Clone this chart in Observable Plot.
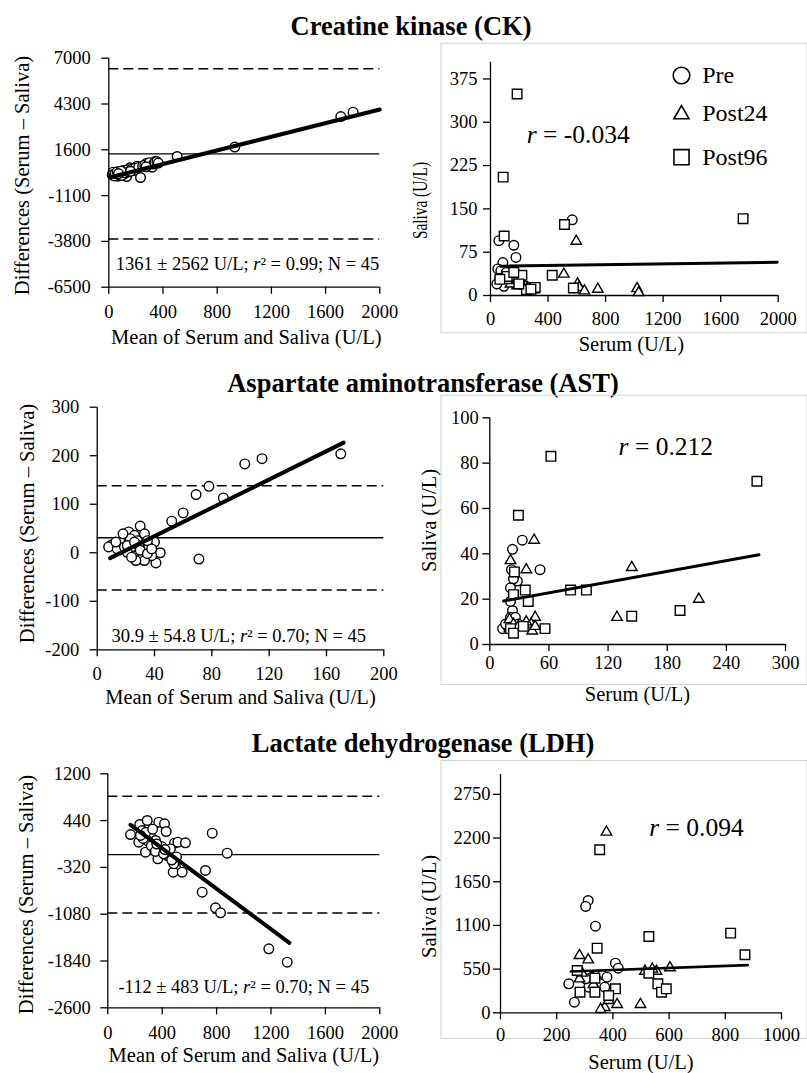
<!DOCTYPE html>
<html>
<head>
<meta charset="utf-8">
<script src="https://cdn.jsdelivr.net/npm/d3@7"></script>
<script src="https://cdn.jsdelivr.net/npm/@observablehq/plot@0.6"></script>
<style>
  body { margin: 0; background: #fff; }
  #fig { position: relative; width: 807px; height: 1073px; background: #fff; overflow: hidden;
         font-family: "Liberation Serif", serif; color: #000; }
  .title { position: absolute; transform: translateX(-50%); white-space: nowrap;
           font-family: "Liberation Serif", serif; font-weight: bold; font-size: 26.5px; line-height: 26.5px; }
  #fig svg { position: absolute; overflow: visible; }
  #fig svg text, #fig svg tspan { font-family: "Liberation Serif", serif !important; }
</style>
</head>
<body>
<div id="fig"></div>
<script>
// ---------- data ----------
const groups = ["Pre", "Post24", "Post96"];

// Creatine kinase (CK)
const ckTicksMean = [0, 400, 800, 1200, 1600, 2000];
const ckTicksDiff = [-6500, -3800, -1100, 1600, 4300, 7000];
const ckTicksSaliva = [0, 75, 150, 225, 300, 375];
const ckBiasSd = [1361, 2562];
const ckR2N = [0.99, 45];
const ckBland = [[32,282],[57,144],[81,221],[67,44],[106,380],[131,26],[156,539],[115,185],[209,634],[234,-33],
  [280,810],[309,616],[321,575],[345,928],[505,1205],[930,1760],[1712,3560],[1803,3820],
  [25,120],[40,60],[48,210],[62,300],[75,150],[88,260],[95,90],[110,310],[120,240],[138,420],[145,300],
  [170,460],[185,380],[195,520],[220,560],[250,640],[265,700],[290,720],[300,840],[330,760],[340,860],
  [355,900],[365,820],[90,340],[72,200],[160,330],[275,600]];
const ckBlandFit = [[12, -15], [2000, 3976]];
const ckPre = [[58,95],[86,57],[162,87],[177,66],[568,131],[51,46],[93,16],[44,20],[132,35],[155,27],
  [72,43],[190,24],[245,16],[65,30],[110,40]];
const ckPost24 = [[596,94],[510,37],[605,20],[616,14],[746,11],[1019,12],[1030,5],[185,17],[243,16],
  [255,12],[208,23],[139,20],[300,10],[653,8],[116,26]];
const ckPost96 = [[185,349],[88,205],[95,103],[514,123],[1756,133],[429,35],[116,33],[218,35],[311,14],
  [576,13],[250,10],[65,28],[197,20],[281,11],[162,40]];
const ckCorr = -0.034;
const ckFit = [[70, 50.7], [1993, 57.6]];

// Aspartate aminotransferase (AST)
const astTicksMean = [0, 40, 80, 120, 160, 200];
const astTicksDiff = [-200, -100, 0, 100, 200, 300];
const astTicksSerum = [0, 60, 120, 180, 240, 300];
const astTicksSaliva = [0, 20, 40, 60, 80, 100];
const astBiasSd = [30.9, 54.8];
const astR2N = [0.70, 45];
const astBland = [[170,204],[115,194],[103,183],[78,137],[69,120],[88,113],[60,82],[52,65],[71,-13],
  [30,55],[44,0],[41,-21],[40,22],[34,7],[30,-13],[27,-2],[20,34],[10,16],[8,12],[22,43],[26,36],
  [28,25],[24,12],[21,1],[28,-6],[31,-13],[36,12],[16,22],[14,8],[33,39],[35,25],[38,-6],[29,15],
  [23,29],[19,12],[33,-16],[27,-16],[13,22],[18,39],[24,-9],[30,5],[35,-2],[38,8],[21,15],[26,22]];
const astBlandFit = [[9, -11], [172, 227]];
const astPre = [[23,42],[33,46],[22,33],[51,33],[28,28],[21,25],[23,15],[21,12],[13,7],[18,8],
  [26,12],[29,9],[21,19],[24,29],[16,9]];
const astPost24 = [[45,46],[21,37],[37,33],[144,34],[212,20],[129,12],[46,12],[42,9],[43,6],[20,11],
  [24,9],[29,8],[37,10],[46,8],[20,7]];
const astPost96 = [[62,83],[271,72],[29,57],[25,32],[36,24],[39,19],[24,22],[82,24],[98,24],[193,15],
  [144,12.5],[21,7],[24,5],[34,8],[56,7]];
const astCorr = 0.212;
const astFit = [[14, 19.2], [273, 39.6]];

// Lactate dehydrogenase (LDH)
const ldhTicksMean = [0, 400, 800, 1200, 1600, 2000];
const ldhTicksDiff = [-2600, -1840, -1080, -320, 440, 1200];
const ldhTicksSerum = [0, 200, 400, 600, 800, 1000];
const ldhTicksSaliva = [0, 550, 1100, 1650, 2200, 2750];
const ldhBiasSd = [-112, 483];
const ldhR2N = [0.70, 45];
const ldhBland = [[167,214],[235,377],[290,442],[375,414],[417,388],[429,263],[253,279],[314,198],
  [228,89],[277,-73],[338,8],[368,-180],[387,-46],[449,-73],[490,73],[498,-317],[481,-398],[547,-398],
  [515,89],[571,79],[485,-262],[768,235],[878,-89],[718,-370],[694,-723],[792,-976],[829,-1057],
  [1184,-1642],[1319,-1859],[351,117],[437,-127],[300,100],[260,150],[320,30],[395,20],[350,-60],
  [410,-100],[460,-20],[505,-150],[280,250],[240,200],[330,300],[470,-200],[360,60],[420,-30]];
const ldhBlandFit = [[167, 372], [1335, -1544]];
const ldhPre = [[312,1414],[303,1339],[338,1091],[409,625],[419,562],[243,365],[263,134],[362,470],
  [344,407],[356,365],[371,323],[326,449],[314,323],[379,449],[303,428]];
const ldhPost24 = [[377,2275],[281,722],[312,667],[281,428],[514,524],[555,524],[603,567],[498,105],
  [415,105],[371,67],[356,42],[331,356],[290,500],[385,155],[540,550]];
const ldhPost96 = [[353,2053],[819,1003],[870,731],[528,961],[344,814],[273,533],[336,436],[409,302],
  [283,260],[336,260],[385,218],[528,499],[560,365],[573,260],[590,302]];
const ldhCorr = 0.094;
const ldhFit = [[250, 520], [880, 600]];

// ---------- drawing helpers ----------
const FONT = "Liberation Serif";
const fig = document.getElementById("fig");
const px = d => d[0], py = d => d[1];

function addTitle(text, cx, baseline) {
  const div = document.createElement("div");
  div.className = "title";
  div.textContent = text;
  div.style.left = cx + "px";
  div.style.top = (baseline - 21.6) + "px";
  fig.appendChild(div);
}

// a text placed at page coordinates, relative to the plot frame's top-left corner
function note(area, text, x, y, opts = {}) {
  return Plot.text([text], {text: d => d, frameAnchor: "top-left", dx: x - area[0], dy: y - area[2],
    fill: "#000", fontFamily: FONT, lineAnchor: "middle", textAnchor: "middle", ...opts});
}

function symbolKey(area, symbol, r, label, x, ySym, yText) {
  return [
    Plot.dot([0], {frameAnchor: "top-left", dx: x - area[0], dy: ySym - area[2], symbol, r,
      stroke: "#000", fill: "#fff", strokeWidth: 1.6}),
    note(area, label, x + 20.7, yText, {textAnchor: "start", fontSize: 24})
  ];
}

function panel({box, area, xDomain, yDomain, xTicks, yTicks, xPad, yPad, tickFont = 18.5, frame, marks, squeeze}) {
  const [L, T, W, H] = box;
  const [x0, x1, y0, y1] = area;
  const extra = [];
  if (frame) {
    extra.push(Plot.frame({stroke: "#d4d4d4", strokeWidth: 1,
      insetLeft: frame[0] - x0, insetRight: x1 - frame[1], insetTop: frame[2] - y0, insetBottom: y1 - frame[3]}));
  }
  const svg = Plot.plot({
    width: W, height: H,
    marginLeft: x0 - L, marginRight: L + W - x1, marginTop: y0 - T, marginBottom: T + H - y1,
    x: {domain: xDomain}, y: {domain: yDomain},
    style: {fontFamily: FONT, background: "transparent", color: "#000", overflow: "visible"},
    marks: [
      ...extra,
      ...marks,
      Plot.ruleX([xDomain[0]], {stroke: "#000", strokeWidth: 1.3}),
      Plot.ruleY([yDomain[0]], {stroke: "#000", strokeWidth: 1.3}),
      Plot.axisX({ticks: xTicks, tickFormat: d => String(d), tickSize: 7, tickPadding: xPad,
        fontSize: tickFont, fontFamily: FONT, label: null, stroke: "#000", strokeWidth: 1.3, fill: "#000"}),
      Plot.axisY({ticks: yTicks, tickFormat: d => String(d), tickSize: 7, tickPadding: yPad,
        fontSize: tickFont, fontFamily: FONT, label: null, stroke: "#000", strokeWidth: 1.3, fill: "#000"})
    ]
  });
  svg.style.left = L + "px";
  svg.style.top = T + "px";
  fig.appendChild(svg);
  // italic correlation symbol inside the statistic labels
  d3.select(svg).selectAll("text").each(function () {
    const s = this.textContent;
    const m = /(^|; )r(?=[² ])/.exec(s);
    if (!m) return;
    const i = m.index + m[1].length;
    const t = d3.select(this);
    t.text(null);
    t.append("tspan").text(s.slice(0, i));
    t.append("tspan").attr("font-style", "italic").text("r");
    t.append("tspan").text(s.slice(i + 1));
  });
  if (squeeze) {
    d3.select(svg).selectAll("text").filter(function () { return this.textContent === squeeze[0]; })
      .attr("textLength", squeeze[1]).attr("lengthAdjust", "spacingAndGlyphs");
  }
}

function blandAltman({box, area, xDomain, yDomain, xTicks, yTicks, xPad, yPad, points, fit, biasSd, r2n,
                      yTitle, xTitle, stats}) {
  const [bias, sd] = biasSd;
  const statText = `${bias} ± ${sd} U/L; r² = ${r2n[0].toFixed(2)}; N = ${r2n[1]}`;
  panel({box, area, xDomain, yDomain, xTicks, yTicks, xPad, yPad, marks: [
    Plot.ruleY([bias], {stroke: "#000", strokeWidth: 1.3}),
    Plot.ruleY([bias + 1.96 * sd, bias - 1.96 * sd], {stroke: "#000", strokeWidth: 1.5, strokeDasharray: "10,5"}),
    Plot.dot(points, {x: px, y: py, r: 4.8, stroke: "#000", fill: "#fff", strokeWidth: 1.4}),
    Plot.line(fit, {x: px, y: py, stroke: "#000", strokeWidth: 4}),
    note(area, statText, stats[0], stats[1], {fontSize: 18.5}),
    note(area, "Differences (Serum – Saliva)", yTitle[0], yTitle[1], {fontSize: 20.5, rotate: -90}),
    note(area, "Mean of Serum and Saliva (U/L)", xTitle[0], xTitle[1], {fontSize: 20.5})
  ]});
}

function scatter({box, area, frame, xDomain, yDomain, xTicks, yTicks, xPad, yPad, sets, fit, fitWidth, corr,
                  rPos, yTitle, xTitle, squeeze, legend}) {
  const shapes = [["circle", 4.8], ["triangle", 3.9], ["square", 5.4]];
  const marks = sets.map((d, i) => Plot.dot(d, {x: px, y: py, symbol: shapes[i][0], r: shapes[i][1],
    stroke: "#000", fill: "#fff", strokeWidth: 1.4}));
  marks.push(Plot.line(fit, {x: px, y: py, stroke: "#000", strokeWidth: fitWidth}));
  marks.push(note(area, `r = ${corr.toFixed(3)}`, rPos[0], rPos[1], {fontSize: 25.5}));
  marks.push(note(area, "Saliva (U/L)", yTitle[0], yTitle[1], {fontSize: 20.5, rotate: -90}));
  marks.push(note(area, "Serum (U/L)", xTitle[0], xTitle[1], {fontSize: 20.5}));
  if (legend) {
    const keyShapes = [["circle", 8.3, 75, 75], ["triangle", 5.6, 113.9, 113.3], ["square", 8.5, 156.7, 157]];
    groups.forEach((g, i) => marks.push(...symbolKey(area, keyShapes[i][0], keyShapes[i][1], g, 681,
      keyShapes[i][2], keyShapes[i][3])));
  }
  panel({box, area, frame, xDomain, yDomain, xTicks, yTicks, xPad, yPad, marks, squeeze});
}

// ---------- figure ----------
addTitle("Creatine kinase (CK)", 411, 35);
addTitle("Aspartate aminotransferase (AST)", 423, 392);
addTitle("Lactate dehydrogenase (LDH)", 423, 751.5);

blandAltman({
  box: [0, 40, 420, 320], area: [108.3, 379.3, 57.7, 286.7],
  xDomain: [0, 2000], yDomain: [-6500, 7000], xTicks: ckTicksMean, yTicks: ckTicksDiff, xPad: 11, yPad: 11,
  points: ckBland, fit: ckBlandFit, biasSd: ckBiasSd, r2n: ckR2N,
  yTitle: [21.5, 175], xTitle: [245.8, 336.5], stats: [247, 264]
});
scatter({
  box: [420, 40, 387, 320], area: [490, 777.7, 61.7, 295], frame: [440.5, 806.5, 42.7, 332.3],
  xDomain: [0, 2000], yDomain: [0, 404], xTicks: ckTicksMean, yTicks: ckTicksSaliva, xPad: 9.5, yPad: 6,
  sets: [ckPre, ckPost24, ckPost96], fit: ckFit, fitWidth: 3, corr: ckCorr,
  rPos: [577.7, 134], yTitle: [420.2, 200], xTitle: [630.8, 343.5], squeeze: ["Saliva (U/L)", 77], legend: true
});

blandAltman({
  box: [0, 397, 420, 318], area: [96.7, 383.3, 406.7, 649.3],
  xDomain: [0, 200], yDomain: [-200, 300], xTicks: astTicksMean, yTicks: astTicksDiff, xPad: 10, yPad: 11,
  points: astBland, fit: astBlandFit, biasSd: astBiasSd, r2n: astR2N,
  yTitle: [27.3, 523], xTitle: [240, 697], stats: [238.3, 636]
});
scatter({
  box: [420, 392, 387, 323], area: [489.3, 785, 417.3, 644], frame: [440.5, 806.5, 394.7, 684],
  xDomain: [0, 300], yDomain: [0, 100], xTicks: astTicksSerum, yTicks: astTicksSaliva, xPad: 4, yPad: 4,
  sets: [astPre, astPost24, astPost96], fit: astFit, fitWidth: 3, corr: astCorr,
  rPos: [665.3, 446.7], yTitle: [429, 520], xTitle: [637, 694]
});

blandAltman({
  box: [0, 757, 420, 316], area: [107.3, 379.3, 773.3, 1007.3],
  xDomain: [0, 2000], yDomain: [-2600, 1200], xTicks: ldhTicksMean, yTicks: ldhTicksDiff, xPad: 11, yPad: 10,
  points: ldhBland, fit: ldhBlandFit, biasSd: ldhBiasSd, r2n: ldhR2N,
  yTitle: [26.3, 894], xTitle: [243.3, 1054.5], stats: [243.3, 987]
});
scatter({
  box: [420, 757, 387, 316], area: [500, 781, 774, 1012.3], frame: [440.5, 806.5, 760, 1038],
  xDomain: [0, 1000], yDomain: [0, 3000], xTicks: ldhTicksSerum, yTicks: ldhTicksSaliva, xPad: 8, yPad: 3,
  sets: [ldhPre, ldhPost24, ldhPost96], fit: ldhFit, fitWidth: 2.6, corr: ldhCorr,
  rPos: [696, 827], yTitle: [428.5, 906], xTitle: [640.5, 1061.5]
});
</script>
</body>
</html>
